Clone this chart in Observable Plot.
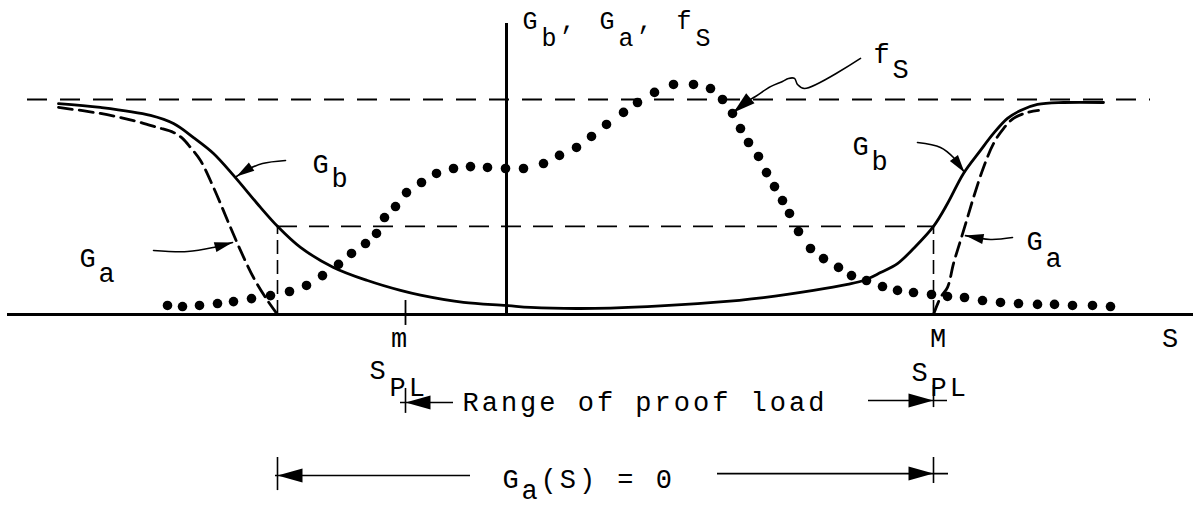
<!DOCTYPE html>
<html>
<head>
<meta charset="utf-8">
<script src="https://cdn.jsdelivr.net/npm/d3@7"></script>
<script src="https://cdn.jsdelivr.net/npm/@observablehq/plot@0.6"></script>
<style>
  html, body { margin: 0; padding: 0; background: #fff; }
  #chart svg { display: block; }
</style>
</head>
<body>
<div id="chart"></div>
<script>
// Load axis S (the vertical axis sits at S = 0); curve values run 0 … 1 (upper asymptote).

// G_b : strength distribution before proof loading (solid)
const gbS = [-44.8,-40.6,-35.6,-33.3,-31.3,-29.3,-27.3,-24.6,-22.9,-20.6,-17.3,-13.9,-10.6,-8.6,-4.3,0,2.4,7.4,14.1,20.7,25.7,30.7,34.1,35.7,37.4,39.1,40.7,42.7,44.1,45.7,47.4,48.7,50.1,51.4,53.1,55.7,59.7];
const gbV = [0.981,0.963,0.926,0.888,0.823,0.749,0.647,0.498,0.41,0.312,0.219,0.158,0.112,0.090,0.056,0.042,0.033,0.028,0.037,0.056,0.079,0.112,0.140,0.158,0.195,0.237,0.307,0.41,0.516,0.656,0.763,0.842,0.912,0.949,0.977,0.986,0.986];

// G_a : after proof loading, left branch and right branch (dashed)
const gaLeftS = [-44.8,-40.6,-37.3,-34.9,-33.3,-32.4,-31.6,-30.6,-29.3,-27.6,-26.6,-25.3,-23.9,-22.9];
const gaLeftV = [0.963,0.935,0.902,0.870,0.847,0.819,0.777,0.716,0.591,0.405,0.298,0.172,0.065,0];
const gaRightS = [42.7,43.4,44.1,44.7,45.4,46.1,46.7,47.7,48.7,49.7,50.7,52.1,53.2];
const gaRightV = [0,0.079,0.126,0.237,0.344,0.451,0.544,0.684,0.795,0.865,0.912,0.940,0.949];

// f_S : load density (dotted)
const fsS = [-33.9,-32.4,-30.7,-28.9,-27.3,-25.5,-23.6,-21.7,-20.0,-18.4,
             -16.8,-15.5,-14.1,-13.0,-12.2,-11.1,-10.0,-8.5,-7.0,-5.3,
             -3.6,-1.9,-0.1,1.7,3.7,5.3,7.0,8.5,10.0,11.7,
             13.1,14.8,16.7,18.7,20.4,21.6,22.6,23.4,24.2,25.2,
             26.0,26.8,27.6,28.3,29.2,30.4,31.7,33.2,34.5,36.0,
             37.6,39.1,40.7,42.5,44.1,45.8,47.6,49.4,51.2,53.1,
             54.8,56.6,58.6,60.4];
const fsV = [0.042,0.037,0.042,0.051,0.060,0.074,0.088,0.107,0.135,0.181,
             0.233,0.284,0.330,0.377,0.451,0.502,0.567,0.614,0.656,0.679,
             0.688,0.684,0.679,0.679,0.702,0.740,0.777,0.828,0.884,0.940,
             0.986,1.033,1.070,1.070,1.051,1.000,0.935,0.865,0.800,0.735,
             0.660,0.595,0.530,0.470,0.386,0.307,0.260,0.219,0.181,0.158,
             0.130,0.112,0.102,0.093,0.084,0.079,0.065,0.056,0.051,0.047,
             0.047,0.042,0.042,0.037];

// Key levels
const sPLmin = -10.1;     // m  : lower proof load
const sPLmax = 42.7;      // M  : upper proof load
const gaZeroFrom = -22.9; // G_a(S) = 0 from here up to M
const gbAtM = 0.41;       // G_b(M)

const zip = (xs, ys) => xs.map((x, i) => ({S: x, v: ys[i]}));
const gb = zip(gbS, gbV);
const gaLeft = zip(gaLeftS, gaLeftV);
const gaRight = zip(gaRightS, gaRightV);
const fs = zip(fsS, fsV);

// Vertical-axis title: main glyphs and lowered subscripts
const titleMain = [
  {t: "G", S: 1.6, v: 1.326}, {t: ",", S: 5.4, v: 1.326}, {t: "G", S: 9.3, v: 1.326},
  {t: ",", S: 13.1, v: 1.326}, {t: "f", S: 17.0, v: 1.326}
];
const titleSub = [
  {t: "b", S: 3.5, v: 1.251}, {t: "a", S: 11.2, v: 1.251}, {t: "S", S: 18.9, v: 1.251}
];

// Annotation text (main glyphs and lowered subscripts)
const textMain = [
  {t: "f", S: 36.7, v: 1.172},
  {t: "G", S: -19.4, v: 0.660},
  {t: "G", S: -42.7, v: 0.219},
  {t: "G", S: 34.6, v: 0.740},
  {t: "G", S: 52.0, v: 0.298},
  {t: "S", S: -13.7, v: -0.298},
  {t: "S", S: 40.5, v: -0.307},
  {t: "Range of proof load", S: -4.4, v: -0.447},
  {t: "G", S: -0.4, v: -0.805}, {t: "(S) = 0", S: 3.4, v: -0.805}
];
const textSub = [
  {t: "S", S: 38.6, v: 1.098},
  {t: "b", S: -17.5, v: 0.591},
  {t: "a", S: -40.8, v: 0.149},
  {t: "b", S: 36.5, v: 0.670},
  {t: "a", S: 53.9, v: 0.219},
  {t: "PL", S: -11.7, v: -0.377},
  {t: "PL", S: 42.4, v: -0.381},
  {t: "a", S: 1.5, v: -0.860}
];
const axisLabels = [
  {t: "m", S: -10.6, v: -0.153},
  {t: "M", S: 43.3, v: -0.153},
  {t: "S", S: 66.5, v: -0.153}
];

// Curved leaders from labels to curves
const leaders = [
  ...[[-22.1,0.716],[-24.4,0.702],[-25.9,0.674],[-27.0,0.642]].map(([S, v]) => ({id: "gbL", S, v})),
  ...[[-35.3,0.298],[-31.9,0.293],[-29.3,0.312],[-27.4,0.335]].map(([S, v]) => ({id: "gaL", S, v})),
  ...[[41.1,0.800],[43.4,0.777],[44.7,0.730],[45.8,0.660]].map(([S, v]) => ({id: "gbR", S, v})),
  ...[[50.6,0.358],[48.4,0.349],[45.9,0.367]].map(([S, v]) => ({id: "gaR", S, v})),
  ...[[35.4,1.191],[29.8,1.051],[29.1,1.070],[28.8,1.098],[28.2,1.098],[27.6,1.084],[26.4,1.060],[24.9,1.014],[23.6,0.977],[22.7,0.940]].map(([S, v]) => ({id: "fs", S, v}))
];
const leaderHeads = [
  {S: -27.0, v: 0.642, rot: 237},
  {S: -27.4, v: 0.335, rot: 75},
  {S: 45.8, v: 0.660, rot: 144},
  {S: 45.9, v: 0.367, rot: 281}
];
const fsHead = [{S: 22.7, v: 0.940, rot: 230}];

// Dimension arrows below the axis
const dimLines = [
  {x1: -10.6, x2: -5.3, y: -0.409},
  {x1: 36.2, x2: 44.1, y: -0.400},
  {x1: -23.1, x2: -3.6, y: -0.749},
  {x1: 21.1, x2: 44.2, y: -0.740}
];
const dimTicks = [
  {x: sPLmin, y1: -0.344, y2: -0.460},
  {x: sPLmax, y1: -0.330, y2: -0.433},
  {x: gaZeroFrom, y1: -0.665, y2: -0.819},
  {x: sPLmax, y1: -0.665, y2: -0.786}
];
const dimHeads = [
  {S: sPLmin, v: -0.409, rot: 270},
  {S: sPLmax, v: -0.400, rot: 90},
  {S: gaZeroFrom, v: -0.749, rot: 270},
  {S: sPLmax, v: -0.740, rot: 90}
];

// Filled, elongated arrowhead
const spikeHead = {
  draw(context, l, r) {
    context.moveTo(-r, 0);
    context.lineTo(0, -l);
    context.lineTo(r, 0);
    context.closePath();
  }
};

const font = "'Liberation Mono', 'DejaVu Sans Mono', monospace";
const fontSize = 27;
const titleSize = 25;

const chart = Plot.plot({
  width: 1193,
  height: 506,
  margin: 0,
  style: {fontFamily: font, letterSpacing: "3px", background: "#fff", color: "#000"},
  x: {domain: [-50.6, 68.7], range: [0, 1193], axis: null},
  y: {domain: [0, 1], range: [314, 99], axis: null},
  marks: [
    // reference levels
    Plot.ruleY([1], {x1: -47.9, x2: 64.4, stroke: "#000", strokeWidth: 1.8, strokeDasharray: "20,13"}),
    Plot.ruleY([gbAtM], {x1: gaZeroFrom, x2: sPLmax, stroke: "#000", strokeWidth: 1.6, strokeDasharray: "20,12"}),
    Plot.ruleX([gaZeroFrom, sPLmax], {y1: 0, y2: gbAtM, stroke: "#000", strokeWidth: 1.6, strokeDasharray: "14,6"}),

    // axes
    Plot.ruleY([0], {x1: -49.9, x2: 68.7, stroke: "#000", strokeWidth: 3}),
    Plot.ruleX([0], {y1: 0, y2: 1.353, stroke: "#000", strokeWidth: 3}),
    Plot.ruleX([sPLmin], {y1: -0.051, y2: 0.065, stroke: "#000", strokeWidth: 1.8}),

    // curves
    Plot.line(gb, {x: "S", y: "v", curve: "catmull-rom", stroke: "#000", strokeWidth: 2.8}),
    Plot.line(gaLeft, {x: "S", y: "v", curve: "catmull-rom", stroke: "#000", strokeWidth: 2.8, strokeDasharray: "14,7"}),
    Plot.line(gaRight, {x: "S", y: "v", curve: "catmull-rom", stroke: "#000", strokeWidth: 2.8, strokeDasharray: "14,7"}),
    Plot.dot(fs, {x: "S", y: "v", r: 4.8, fill: "#000", stroke: "none"}),

    // leaders
    Plot.line(leaders, {x: "S", y: "v", z: "id", curve: "catmull-rom", stroke: "#000", strokeWidth: 1.6}),
    Plot.vector(leaderHeads, {x: "S", y: "v", rotate: "rot", length: 18, r: 5, anchor: "end", shape: spikeHead, fill: "#000", stroke: "none"}),
    Plot.vector(fsHead, {x: "S", y: "v", rotate: "rot", length: 22, r: 6.5, anchor: "end", shape: spikeHead, fill: "#000", stroke: "none"}),

    // dimension arrows
    Plot.ruleY(dimLines, {x1: "x1", x2: "x2", y: "y", stroke: "#000", strokeWidth: 1.6}),
    Plot.ruleX(dimTicks, {x: "x", y1: "y1", y2: "y2", stroke: "#000", strokeWidth: 1.6}),
    Plot.vector(dimHeads, {x: "S", y: "v", rotate: "rot", length: 25, r: 7, anchor: "end", shape: spikeHead, fill: "#000", stroke: "none"}),

    // text
    Plot.text(titleMain, {x: "S", y: "v", text: "t", textAnchor: "start", lineAnchor: "bottom", fontSize: titleSize, fill: "#000"}),
    Plot.text(titleSub, {x: "S", y: "v", text: "t", textAnchor: "start", lineAnchor: "bottom", fontSize: titleSize, fill: "#000"}),
    Plot.text(textMain, {x: "S", y: "v", text: "t", textAnchor: "start", lineAnchor: "bottom", fontSize, fill: "#000"}),
    Plot.text(textSub, {x: "S", y: "v", text: "t", textAnchor: "start", lineAnchor: "bottom", fontSize, fill: "#000"}),
    Plot.text(axisLabels, {x: "S", y: "v", text: "t", textAnchor: "middle", lineAnchor: "bottom", fontSize, fill: "#000"})
  ]
});

document.getElementById("chart").appendChild(chart);
</script>
</body>
</html>
